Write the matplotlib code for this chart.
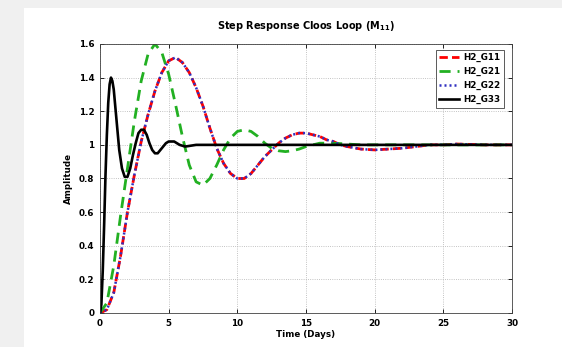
import matplotlib
matplotlib.use("Agg")
import matplotlib.pyplot as plt
from matplotlib.patches import Rectangle

# ---- data ----
t_g11 = [0, 0.5, 1.0, 1.5, 2.0, 2.5, 3.0, 3.5, 4.0, 4.5, 5.0, 5.5, 6.0, 6.5, 7.0, 7.5, 8.0, 8.5,
         9.0, 9.5, 10.0, 10.5, 11.0, 11.5, 12.0, 12.5, 13.0, 13.5, 14.0, 14.5, 15.0, 15.5, 16.0,
         16.5, 17.0, 17.5, 18.0, 19.0, 20.0, 21.0, 22.0, 23.0, 24.0, 25.0, 26.0, 28.0, 30.0]
y_g11 = [0, 0.02, 0.12, 0.34, 0.60, 0.82, 1.02, 1.18, 1.32, 1.43, 1.50, 1.52, 1.49, 1.43, 1.34,
         1.23, 1.10, 0.98, 0.89, 0.83, 0.80, 0.80, 0.83, 0.88, 0.93, 0.97, 1.01, 1.04, 1.06, 1.07,
         1.07, 1.06, 1.05, 1.03, 1.02, 1.00, 0.99, 0.975, 0.97, 0.975, 0.98, 0.99, 1.00, 1.00,
         1.005, 1.00, 1.00]
t_g22 = t_g11
y_g22 = y_g11

t_g21 = [0, 0.5, 1.0, 1.5, 2.0, 2.5, 3.0, 3.5, 4.0, 4.5, 5.0, 5.5, 6.0, 6.5, 7.0, 7.5, 8.0, 8.5,
         9.0, 9.5, 10.0, 10.5, 11.0, 11.5, 12.0, 12.5, 13.0, 13.5, 14.0, 14.5, 15.0, 15.5, 16.0,
         17.0, 18.0, 19.0, 20.0, 22.0, 25.0, 30.0]
y_g21 = [0, 0.06, 0.28, 0.58, 0.86, 1.14, 1.38, 1.54, 1.60, 1.55, 1.42, 1.24, 1.05, 0.88, 0.78,
         0.76, 0.80, 0.88, 0.97, 1.04, 1.08, 1.09, 1.08, 1.05, 1.01, 0.98, 0.965, 0.96, 0.965,
         0.975, 0.99, 1.00, 1.01, 1.01, 1.005, 1.00, 1.00, 1.00, 1.00, 1.00]

t_g33 = [0, 0.1, 0.2, 0.3, 0.4, 0.5, 0.6, 0.7, 0.8, 0.9, 1.0, 1.2, 1.4, 1.6, 1.8, 2.0, 2.2, 2.4,
         2.6, 2.8, 3.0, 3.2, 3.4, 3.6, 3.8, 4.0, 4.2, 4.4, 4.6, 4.8, 5.0, 5.4, 5.8, 6.2, 7.0, 10.0,
         20.0, 30.0]
y_g33 = [0, 0.05, 0.25, 0.52, 0.82, 1.06, 1.25, 1.36, 1.40, 1.38, 1.33, 1.15, 0.97, 0.86, 0.81,
         0.81, 0.86, 0.94, 1.01, 1.07, 1.09, 1.09, 1.06, 1.01, 0.97, 0.95, 0.95, 0.97, 0.99, 1.01,
         1.02, 1.02, 1.00, 0.99, 1.00, 1.00, 1.00, 1.00]

labels = ["H2_G11", "H2_G21", "H2_G22", "H2_G33"]
xticks = [0, 5, 10, 15, 20, 25, 30]
yticks = [0, 0.2, 0.4, 0.6, 0.8, 1.0, 1.2, 1.4, 1.6]
yticklabels = ["0", "0.2", "0.4", "0.6", "0.8", "1", "1.2", "1.4", "1.6"]

W, H = 562, 347
fig = plt.figure(figsize=(W / 100, H / 100), dpi=100)
fig.patch.set_facecolor("#f0f0f0")
fig.patches.append(Rectangle((24 / W, 0), 1 - 24 / W, 1 - 8 / H, transform=fig.transFigure,
                             facecolor="white", edgecolor="none", zorder=-5))

ax = fig.add_axes([100 / W, 1 - 313 / H, 412 / W, 269 / H])
ax.set_zorder(1)
ax.plot(t_g11, y_g11, color="red", ls=(0, (3, 1.5)), lw=2.0, label=labels[0])
ax.plot(t_g21, y_g21, color="#22b022", ls=(0, (4, 2.5)), lw=2.0, label=labels[1])
ax.plot(t_g22, y_g22, color="#3030c0", ls=(0, (0.8, 1.2)), lw=1.8, label=labels[2])
ax.plot(t_g33, y_g33, color="black", ls="-", lw=1.9, label=labels[3])

ax.set_xlim(0, 30)
ax.set_ylim(0, 1.6)
ax.set_xticks(xticks)
ax.set_xticklabels([str(v) for v in xticks])
ax.set_yticks(yticks)
ax.set_yticklabels(yticklabels)
ax.tick_params(direction="in", length=3, width=0.6, labelsize=6.3, pad=4,
               top=True, right=True)
for lab in ax.get_xticklabels() + ax.get_yticklabels():
    lab.set_fontweight("bold")
ax.grid(True, ls=":", color="#b0b0b0", lw=0.6)
for sp in ax.spines.values():
    sp.set_linewidth(0.6)
    sp.set_color("#404040")

ax.set_title("Step Response Cloos Loop (M$_{\\mathbf{11}}$)", fontsize=7, fontweight="bold", pad=11)
ax.set_xlabel("Time (Days)", fontsize=6.3, fontweight="bold", labelpad=2)
ax.set_ylabel("Amplitude", fontsize=6.3, fontweight="bold", labelpad=4)

leg = ax.legend(loc="upper right", prop={"weight": "bold", "size": 6.3},
                handlelength=2.3, borderpad=0.4, labelspacing=0.55, handletextpad=0.4,
                fancybox=False, framealpha=1, edgecolor="#404040",
                bbox_to_anchor=(0.99, 0.995))
leg.get_frame().set_linewidth(0.6)

fig.savefig("out.png", dpi=100, facecolor=fig.get_facecolor())
